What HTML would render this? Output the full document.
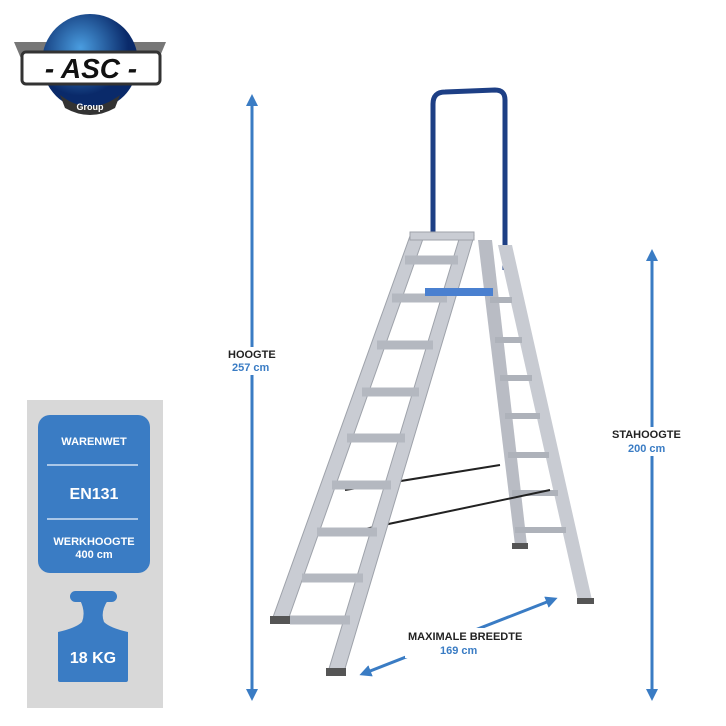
<!DOCTYPE html><html><head><style>body{margin:0;background:#fff}svg{display:block}text{font-family:"Liberation Sans",sans-serif;font-weight:bold}</style></head><body>
<svg width="726" height="726" viewBox="0 0 726 726" xmlns="http://www.w3.org/2000/svg">
<defs><marker id="a" viewBox="0 0 10 10" refX="5" refY="5" markerWidth="4" markerHeight="4" orient="auto-start-reverse"><path d="M0,0L10,5L0,10z" fill="#3a7cc4"/></marker>
<radialGradient id="g" cx="0.4" cy="0.35"><stop offset="0" stop-color="#4a9de0"/><stop offset="1" stop-color="#0a2a6a"/></radialGradient></defs>
<path d="M14,42 L60,42 L60,80 L30,80z M166,42 L120,42 L120,80 L150,80z" fill="#777"/>
<circle cx="90" cy="62" r="48" fill="url(#g)"/>
<rect x="22" y="52" width="138" height="32" rx="4" fill="#fff" stroke="#333" stroke-width="3"/>
<text x="91" y="78" font-size="28" font-style="italic" text-anchor="middle" fill="#111">- ASC -</text>
<path d="M60,95 Q90,118 120,95 L115,108 Q90,122 65,108z" fill="#333"/>
<text x="90" y="110" font-size="9" text-anchor="middle" fill="#fff">Group</text>
<rect x="27" y="400" width="136" height="308" fill="#d8d8d8"/>
<rect x="38" y="415" width="112" height="158" rx="12" fill="#3a7cc4"/>
<line x1="47" y1="465" x2="138" y2="465" stroke="#cfe0f4" stroke-width="1.5"/>
<line x1="47" y1="519" x2="138" y2="519" stroke="#cfe0f4" stroke-width="1.5"/>
<text x="94" y="445" font-size="11" fill="#fff" text-anchor="middle">WARENWET</text>
<text x="94" y="499" font-size="16" fill="#fff" text-anchor="middle">EN131</text>
<text x="94" y="545" font-size="11" fill="#fff" text-anchor="middle">WERKHOOGTE</text>
<text x="94" y="558" font-size="11" fill="#fff" text-anchor="middle">400 cm</text>
<rect x="70" y="591" width="47" height="11" rx="5.5" fill="#3a7cc4"/>
<path d="M80,600 L108,600 Q100,612 104,622 Q110,628 128,632 L128,680 Q128,682 126,682 L60,682 Q58,682 58,680 L58,632 Q76,628 82,622 Q86,612 80,600z" fill="#3a7cc4"/>
<text x="93" y="663" font-size="16" fill="#fff" text-anchor="middle">18 KG</text>
<line x1="252" y1="100" x2="252" y2="695" stroke="#3a7cc4" stroke-width="3" marker-start="url(#a)" marker-end="url(#a)"/>
<line x1="652" y1="255" x2="652" y2="695" stroke="#3a7cc4" stroke-width="3" marker-start="url(#a)" marker-end="url(#a)"/>
<line x1="365" y1="673" x2="552" y2="600" stroke="#3a7cc4" stroke-width="3" marker-start="url(#a)" marker-end="url(#a)"/>
<rect x="226" y="347" width="52" height="28" fill="#fff"/>
<rect x="610" y="427" width="74" height="29" fill="#fff"/>
<rect x="405" y="628" width="120" height="30" fill="#fff"/>
<text x="228" y="358" font-size="11" fill="#222">HOOGTE</text>
<text x="232" y="371" font-size="11" fill="#3a7cc4">257 cm</text>
<text x="612" y="438" font-size="11" fill="#222">STAHOOGTE</text>
<text x="628" y="452" font-size="11" fill="#3a7cc4">200 cm</text>
<text x="408" y="640" font-size="11" fill="#222">MAXIMALE BREEDTE</text>
<text x="440" y="654" font-size="11" fill="#3a7cc4">169 cm</text>
<path d="M433,240 L433,104 Q433,92 445,92 L495,90 Q505,90 505,100 L505,270" fill="none" stroke="#1d3f85" stroke-width="5"/>
<polygon points="478,240 492,240 527,545 515,545" fill="#b9bcc4"/>
<polygon points="498,245 512,245 592,600 578,600" fill="#c8cbd2"/>
<g stroke="#aeb2ba" stroke-width="6">
<line x1="490" y1="300" x2="512" y2="300"/><line x1="495" y1="340" x2="522" y2="340"/><line x1="500" y1="378" x2="532" y2="378"/><line x1="505" y1="416" x2="540" y2="416"/><line x1="508" y1="455" x2="549" y2="455"/><line x1="512" y1="493" x2="558" y2="493"/><line x1="515" y1="530" x2="566" y2="530"/></g>
<line x1="345" y1="490" x2="500" y2="465" stroke="#222" stroke-width="2"/>
<line x1="360" y1="530" x2="550" y2="490" stroke="#222" stroke-width="2"/>
<g fill="#c9ccd3" stroke="#9ea2aa" stroke-width="1">
<polygon points="410,236 424,236 288,620 272,620"/>
<polygon points="460,236 474,236 344,672 328,672"/>
<rect x="410" y="232" width="64" height="8"/>
</g>
<g stroke="#b4b8c0" stroke-width="9">
<line x1="405" y1="260" x2="458" y2="260"/><line x1="392" y1="298" x2="447" y2="298"/><line x1="377" y1="345" x2="433" y2="345"/><line x1="362" y1="392" x2="419" y2="392"/><line x1="347" y1="438" x2="405" y2="438"/><line x1="332" y1="485" x2="391" y2="485"/><line x1="317" y1="532" x2="377" y2="532"/><line x1="302" y1="578" x2="363" y2="578"/><line x1="290" y1="620" x2="350" y2="620"/></g>
<rect x="425" y="288" width="68" height="8" fill="#4a80d0"/>
<rect x="270" y="616" width="20" height="8" fill="#555"/><rect x="326" y="668" width="20" height="8" fill="#555"/>
<rect x="512" y="543" width="16" height="6" fill="#555"/><rect x="577" y="598" width="17" height="6" fill="#555"/>
</svg></body></html>
